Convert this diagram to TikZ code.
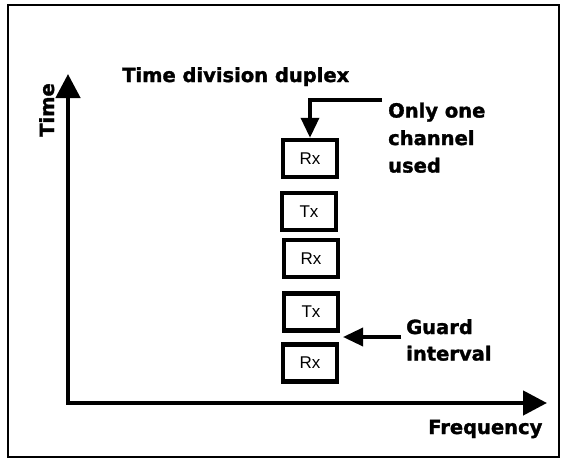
\documentclass[tikz,border=0pt]{standalone}
\usepackage{fontspec}
\setmainfont{DejaVu Sans}[BoldFeatures={FakeBold=1.6}]
\newfontfamily\slotfont{Liberation Sans}
\usetikzlibrary{arrows.meta}
\tikzset{bigtip/.tip={Triangle[length=24pt,width=24pt]}}
\begin{document}
\begin{tikzpicture}[x=1pt,y=-1pt,
  slot/.style={draw, line width=4.5pt, minimum width=54pt, minimum height=37pt,
    inner sep=0pt, font=\slotfont\fontsize{17}{17}\selectfont},
  lbl/.style={font=\bfseries\fontsize{19.5}{27.5}\selectfont, inner sep=0pt, align=left},
  axisline/.style={line width=4.5pt, line join=miter},
  callout/.style={line width=3.5pt, -{Triangle[length=20pt,width=18pt]}}]
\fill[white] (0,0) rectangle (564,458);
\useasboundingbox (0,0) rectangle (564,458);
\draw[line width=2pt] (8,5) rectangle (558.5,456.5);
% axes
\coordinate (ytop) at (68,74);
\coordinate (O) at (68,403);
\coordinate (xend) at (547,403);
\draw[axisline, bigtip-bigtip] (ytop) -- (O) -- (xend);
% slots
\node[slot] (r1) at (310,158.5) {Rx};
\node[slot] (t1) at (309,211.5) {Tx};
\node[slot] (r2) at (311,258.5) {Rx};
\node[slot] (t2) at (311,312) {Tx};
\node[slot] (r3) at (310,363) {Rx};
% labels
\node[lbl, anchor=base west] (tdd) at (122,82) {Time division duplex};
\node[lbl, anchor=base west] (freq) at (428,434) {Frequency};
\node[lbl, anchor=base west, rotate=90] (time) at (54,137) {Time};
\node[lbl, anchor=north west] (only) at (388,102.5) {Only one\\channel\\used};
\node[lbl, anchor=north west, font=\bfseries\fontsize{19.5}{26.5}\selectfont] (guard) at (406,319) {Guard\\interval};
% callouts
\coordinate (c1) at (382,100);
\draw[callout] (c1) -| (r1.north);
\coordinate (c2) at (401,337);
\coordinate (g) at (343,337);
\draw[callout] (c2) -- (g);
\end{tikzpicture}
\end{document}
